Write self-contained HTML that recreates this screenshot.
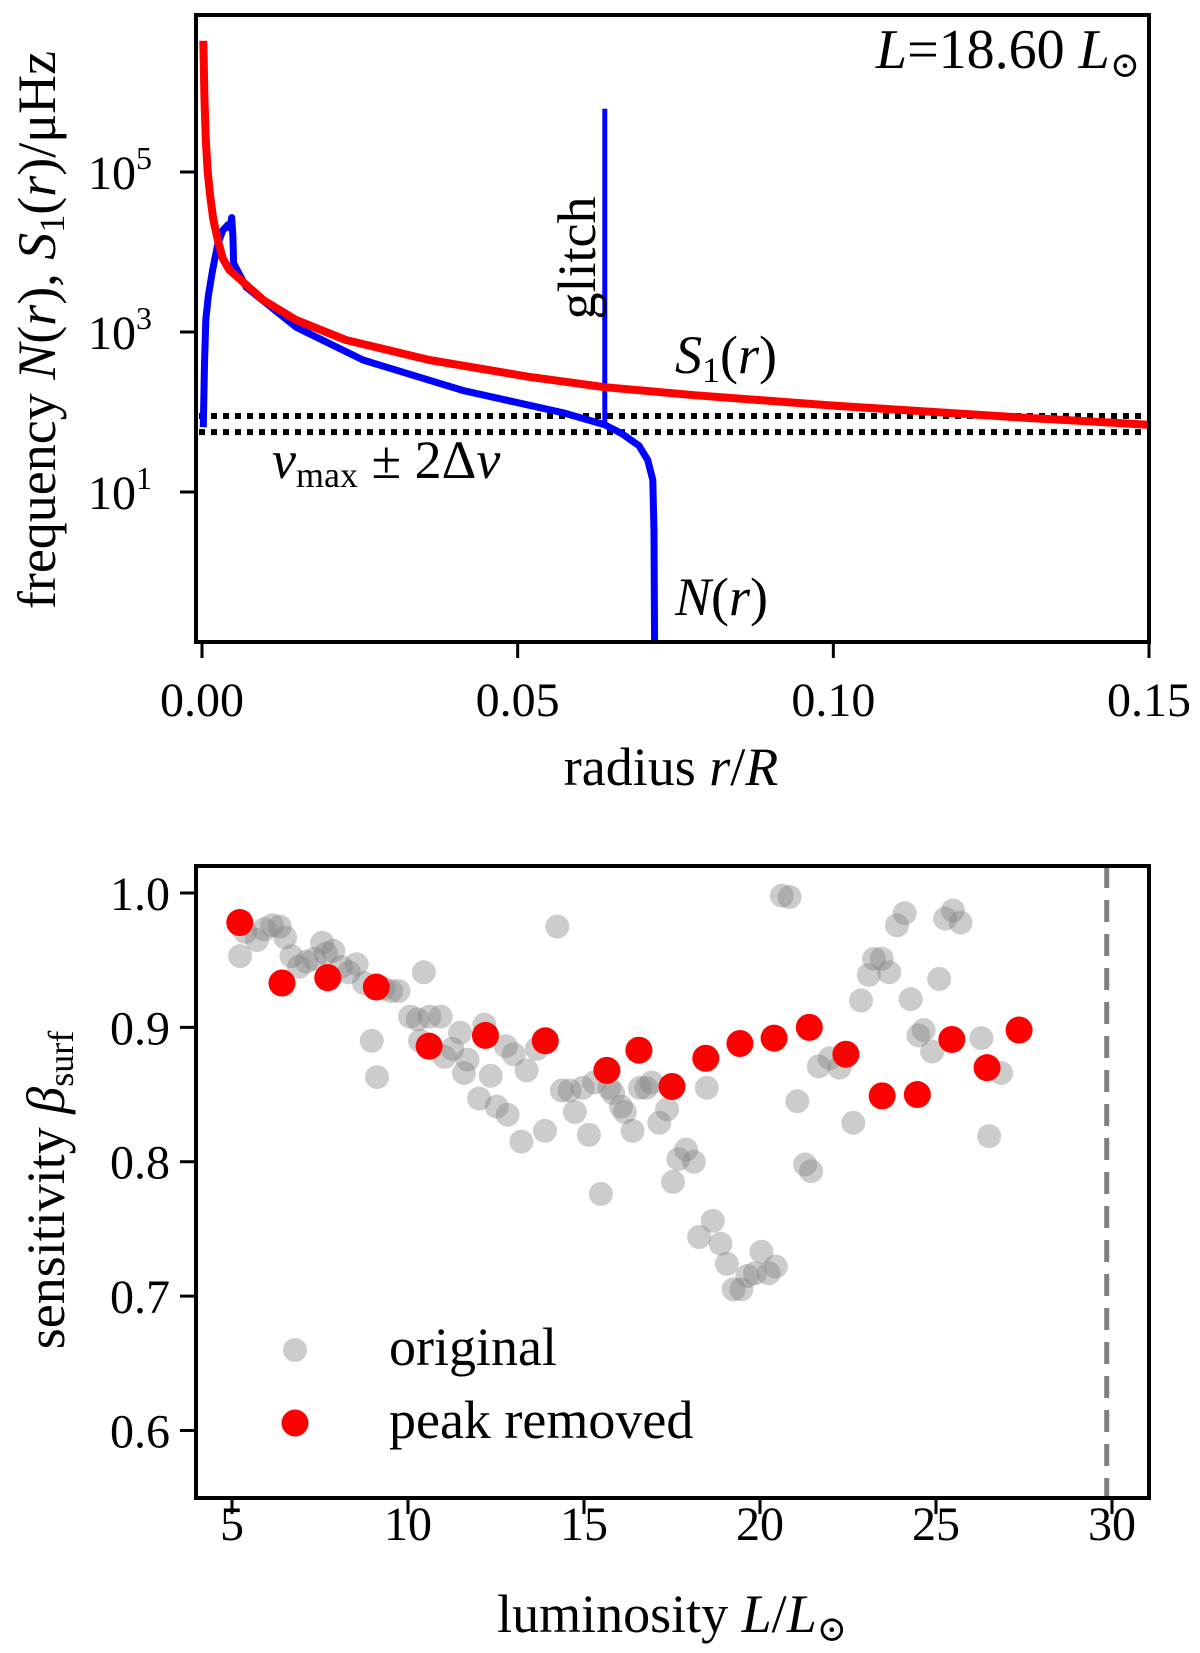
<!DOCTYPE html>
<html><head><meta charset="utf-8"><style>
body{margin:0;background:#fff}
svg{display:block}
text{font-family:"Liberation Serif","DejaVu Serif",serif;fill:#000}
</style></head><body>
<svg id="fig" width="1200" height="1653" viewBox="0 0 1200 1653" xmlns="http://www.w3.org/2000/svg">
<g id="topPanel"></g>
<g id="botPanel"></g>
</svg>
<script>
// ---- top chart data (log10 of frequency in μHz) ----
const s1R = [0.0002,0.0004,0.0006,0.0009,0.0013,0.0018,0.0025,0.0033,0.0043,0.005,0.0097,0.0149,0.0228,0.036,0.0518,0.0638,0.078,0.1,0.13,0.15];
const s1LogV = [6.64,5.9,5.4,5.0,4.7,4.4,4.15,3.92,3.78,3.73,3.40,3.15,2.90,2.65,2.44,2.31,2.21,2.08,1.93,1.84];
const nR = [0.0002,0.0004,0.0006,0.001,0.0017,0.0025,0.0033,0.0041,0.0044,0.0047,0.0049,0.005,0.007,0.0149,0.0255,0.0413,0.0572,0.0638,0.0665,0.0692,0.0706,0.0714,0.0716,0.0717];
const nLogV = [1.81,2.6,3.15,3.45,3.78,4.1,4.27,4.34,4.3,4.43,4.2,3.86,3.56,3.06,2.65,2.27,1.99,1.84,1.73,1.58,1.40,1.15,0.5,-1.2];
const glitchR = [0.0638,0.0638];
const glitchLogV = [1.84,5.79];
const bandV = [89,56];
const xTicksTop = [0,0.05,0.10,0.15];
const xTickLabelsTop = ["0.00","0.05","0.10","0.15"];
const yTicksTop = [5,3,1];
// ---- bottom chart data ----
const origL = [5.23,5.38,5.71,5.92,6.14,6.36,6.51,6.69,6.90,7.12,7.34,7.56,7.67,7.88,8.10,8.32,8.54,8.75,8.97,9.12,9.30,9.52,9.73,10.06,10.28,10.45,10.34,10.61,10.93,11.04,11.26,11.48,11.69,11.59,12.02,12.17,12.35,12.52,12.83,12.78,13.22,13.00,13.37,13.66,13.89,14.24,14.37,14.59,14.74,14.96,15.14,15.29,15.48,15.72,15.83,16.05,16.16,16.38,16.59,16.77,16.92,17.14,17.36,17.53,17.68,17.90,18.12,18.27,18.49,18.66,18.88,19.06,19.25,19.47,19.64,19.86,20.04,20.25,20.45,20.62,20.84,21.06,21.28,21.45,21.67,21.98,22.26,22.65,22.87,23.09,23.24,23.46,23.67,23.89,24.11,24.28,24.50,24.65,24.89,25.09,25.26,25.48,25.70,26.29,26.51,26.85];
const origB = [0.953,0.971,0.965,0.973,0.976,0.975,0.967,0.953,0.945,0.949,0.951,0.963,0.955,0.957,0.945,0.941,0.947,0.933,0.890,0.863,0.929,0.927,0.927,0.908,0.906,0.941,0.890,0.908,0.908,0.878,0.884,0.896,0.876,0.866,0.847,0.902,0.864,0.841,0.835,0.886,0.815,0.880,0.868,0.884,0.823,0.975,0.853,0.853,0.837,0.855,0.820,0.859,0.776,0.855,0.851,0.841,0.837,0.823,0.855,0.855,0.859,0.829,0.839,0.785,0.802,0.809,0.800,0.744,0.855,0.756,0.739,0.724,0.705,0.705,0.715,0.717,0.733,0.717,0.722,0.998,0.997,0.845,0.798,0.793,0.871,0.877,0.870,0.829,0.920,0.939,0.951,0.951,0.941,0.976,0.985,0.921,0.894,0.898,0.882,0.936,0.981,0.987,0.978,0.892,0.819,0.866];
const peakL = [5.22,6.42,7.72,9.1,10.6,12.2,13.9,15.65,16.56,17.5,18.46,19.43,20.4,21.4,22.44,23.47,24.47,25.45,26.45,27.36];
const peakB = [0.978,0.933,0.937,0.930,0.886,0.894,0.890,0.868,0.883,0.856,0.877,0.888,0.892,0.900,0.880,0.849,0.850,0.891,0.870,0.898];
const xTicksBot = [5,10,15,20,25,30];
const yTicksBot = [1.0,0.9,0.8,0.7,0.6];
const yTickLabelsBot = ["1.0","0.9","0.8","0.7","0.6"];
const lumLimit = 29.85;

const NS="http://www.w3.org/2000/svg";
function mk(parent,tag,attrs,txt){const e=document.createElementNS(NS,tag);for(const k in attrs)e.setAttribute(k,attrs[k]);if(txt!==undefined)e.textContent=txt;parent.appendChild(e);return e;}

// top axes
const T={l:196,r:1149,t:15,b:642};
const px=r=>202+r/0.15*(1149-202);
const pyLog=lv=>172+(5-lv)*80;
const py=v=>pyLog(Math.log10(v));
const topG=document.getElementById('topPanel');
function poly(R,LV){return R.map((r,i)=>px(r).toFixed(1)+","+pyLog(LV[i]).toFixed(1)).join(" ");}
const cp=mk(topG,'clipPath',{id:'cpt'});mk(cp,'rect',{x:T.l,y:T.t,width:T.r-T.l,height:T.b-T.t});
const plotTop=mk(topG,'g',{'clip-path':'url(#cpt)'});
bandV.forEach((v,i)=>{const l=mk(plotTop,'line',{x1:T.l+3,x2:T.r,y1:py(v),y2:py(v),stroke:'#000','stroke-width':6,'stroke-dasharray':'6,6'});

});
const gl=mk(plotTop,'polyline',{points:poly(glitchR,glitchLogV),fill:'none',stroke:'#0000ff','stroke-width':5});


const nl=mk(plotTop,'polyline',{points:poly(nR,nLogV),fill:'none',stroke:'#0000ff','stroke-width':7,'stroke-linejoin':'round'});


const sl=mk(plotTop,'polyline',{points:poly(s1R,s1LogV),fill:'none',stroke:'#ff0000','stroke-width':8,'stroke-linejoin':'round'});


mk(topG,'rect',{x:T.l,y:T.t,width:T.r-T.l,height:T.b-T.t,fill:'none',stroke:'#000','stroke-width':4,});
xTicksTop.forEach((t,i)=>{const x=px(t);mk(topG,'line',{x1:x,x2:x,y1:T.b,y2:T.b+16,stroke:'#000','stroke-width':3});
const tx=mk(topG,'text',{x:x,y:716,'font-size':48,'text-anchor':'middle'},xTickLabelsTop[i]);

});
yTicksTop.forEach(e=>{const y=pyLog(e);mk(topG,'line',{x1:T.l-16,x2:T.l,y1:y,y2:y,stroke:'#000','stroke-width':3});
const tx=mk(topG,'text',{x:152,y:y+17,'font-size':48,'text-anchor':'end'},'10');


mk(tx,'tspan',{dy:-20,'font-size':32},String(e));});
mk(topG,'text',{x:671,y:785,'font-size':54,'text-anchor':'middle',}).innerHTML='radius <tspan font-style="italic">r</tspan>/<tspan font-style="italic">R</tspan>';
mk(topG,'text',{x:0,y:0,'font-size':54,'text-anchor':'middle',transform:'translate(55,330) rotate(-90)',}).innerHTML='frequency <tspan font-style="italic">N</tspan>(<tspan font-style="italic">r</tspan>), <tspan font-style="italic">S</tspan><tspan font-size="36" dy="9">1</tspan><tspan dy="-9">(</tspan><tspan font-style="italic">r</tspan>)/μHz';
mk(topG,'text',{x:1140,y:68,'font-size':56,'text-anchor':'end',}).innerHTML='<tspan font-style="italic">L</tspan>=18.60 <tspan font-style="italic">L</tspan><tspan font-size="36" dy="9">⊙</tspan>';
mk(topG,'text',{x:0,y:0,'font-size':54,'text-anchor':'middle',transform:'translate(595,258) rotate(-90)',},'glitch');
mk(topG,'text',{x:675,y:373,'font-size':54,}).innerHTML='<tspan font-style="italic">S</tspan><tspan font-size="36" dy="9">1</tspan><tspan dy="-9">(</tspan><tspan font-style="italic">r</tspan>)';
mk(topG,'text',{x:272,y:478,'font-size':54,}).innerHTML='<tspan font-style="italic">ν</tspan><tspan font-size="36" dy="9">max</tspan><tspan dy="-9"> ± 2Δ</tspan><tspan font-style="italic">ν</tspan>';
mk(topG,'text',{x:675,y:615,'font-size':54,}).innerHTML='<tspan font-style="italic">N</tspan>(<tspan font-style="italic">r</tspan>)';

// bottom axes
const BB={l:196,r:1149,t:866,b:1498};
const bx=L=>232+(L-5)*35.2;
const by=b=>893+(1-b)*1343.7;
const botG=document.getElementById('botPanel');
const cpb=mk(botG,'clipPath',{id:'cpb'});mk(cpb,'rect',{x:BB.l,y:BB.t,width:BB.r-BB.l,height:BB.b-BB.t});
const plotBot=mk(botG,'g',{'clip-path':'url(#cpb)'});
const dl=mk(plotBot,'line',{x1:bx(lumLimit),x2:bx(lumLimit),y1:BB.t,y2:BB.b,stroke:'#808080','stroke-width':5,'stroke-dasharray':'22,12'});


origL.forEach((L,i)=>{const c=mk(plotBot,'circle',{cx:bx(L),cy:by(origB[i]),r:12,fill:'#808080','fill-opacity':0.4});

});
peakL.forEach((L,i)=>{const c=mk(plotBot,'circle',{cx:bx(L),cy:by(peakB[i]),r:13.5,fill:'#ff0000'});

});
mk(botG,'rect',{x:BB.l,y:BB.t,width:BB.r-BB.l,height:BB.b-BB.t,fill:'none',stroke:'#000','stroke-width':4,});
xTicksBot.forEach(t=>{const x=bx(t);mk(botG,'line',{x1:x,x2:x,y1:BB.b,y2:BB.b+16,stroke:'#000','stroke-width':3});
const tx=mk(botG,'text',{x:x,y:1540,'font-size':48,'text-anchor':'middle'},String(t));

});
yTicksBot.forEach((t,i)=>{const y=by(t);mk(botG,'line',{x1:BB.l-16,x2:BB.l,y1:y,y2:y,stroke:'#000','stroke-width':3});
const tx=mk(botG,'text',{x:170,y:y+17,'font-size':48,'text-anchor':'end'},yTickLabelsBot[i]);

});
mk(botG,'text',{x:672,y:1632,'font-size':54,'text-anchor':'middle',}).innerHTML='luminosity <tspan font-style="italic">L</tspan>/<tspan font-style="italic">L</tspan><tspan font-size="36" dy="9">⊙</tspan>';
mk(botG,'text',{x:0,y:0,'font-size':54,'text-anchor':'middle',transform:'translate(64,1190) rotate(-90)',}).innerHTML='sensitivity <tspan font-style="italic">β</tspan><tspan font-size="36" dy="9">surf</tspan>';
const lg=mk(botG,'g',{});
mk(lg,'circle',{cx:295,cy:1350,r:12,fill:'#808080','fill-opacity':0.4,});
mk(lg,'text',{x:389,y:1365,'font-size':54,},'original');
mk(lg,'circle',{cx:295,cy:1423,r:13.5,fill:'#ff0000',});
mk(lg,'text',{x:389,y:1438,'font-size':54,},'peak removed');
</script>
</body></html>
